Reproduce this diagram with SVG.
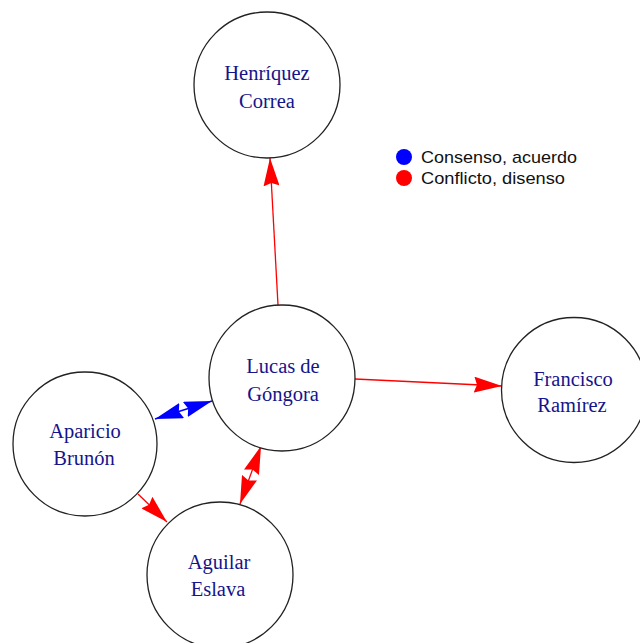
<svg xmlns="http://www.w3.org/2000/svg" width="640" height="643" viewBox="0 0 640 643">
<style>
.node{fill:#fff;stroke:#222;stroke-width:1.3}
.lbl{font-family:"Liberation Serif",serif;font-size:20.5px;fill:#14148c;text-anchor:middle}
.red{stroke:#f00;stroke-width:1.3;fill:none}
.blue{stroke:#00f;stroke-width:1.6;fill:none}
.leg{font-family:"Liberation Sans",sans-serif;font-size:17px;fill:#111}
</style>
<defs>
<marker id="ar" viewBox="0 0 28 16" refX="28" refY="8" markerWidth="28" markerHeight="16" markerUnits="userSpaceOnUse" orient="auto-start-reverse">
<path d="M0,0 L28,8 L0,16 L3,8 Z" fill="#f00"/>
</marker>
<marker id="ab" viewBox="0 0 28 16" refX="28" refY="8" markerWidth="28" markerHeight="16" markerUnits="userSpaceOnUse" orient="auto-start-reverse">
<path d="M0,0 L28,8 L0,16 L3,8 Z" fill="#00f"/>
</marker>
</defs>
<rect width="640" height="643" fill="#fff"/>
<g id="connectors">
<line class="red" x1="278" y1="305" x2="270" y2="158" marker-end="url(#ar)"/>
<line class="red" x1="355" y1="379" x2="502" y2="386" marker-end="url(#ar)"/>
<line class="blue" x1="155" y1="419" x2="212" y2="401" marker-start="url(#ab)" marker-end="url(#ab)"/>
<line class="red" x1="261" y1="446" x2="240" y2="504" marker-start="url(#ar)" marker-end="url(#ar)"/>
<line class="red" x1="138" y1="494" x2="167" y2="522" marker-end="url(#ar)"/>
</g>
<g id="henriquez">
<circle class="node" cx="267" cy="85" r="73"/>
<text class="lbl" x="267" y="80">Henríquez</text>
<text class="lbl" x="267" y="108">Correa</text>
</g>
<g id="lucas">
<circle class="node" cx="282" cy="378" r="73"/>
<text class="lbl" x="283" y="373">Lucas de</text>
<text class="lbl" x="283" y="401">Góngora</text>
</g>
<g id="francisco">
<circle class="node" cx="574" cy="390" r="72.5"/>
<text class="lbl" x="573" y="386">Francisco</text>
<text class="lbl" x="572" y="412">Ramírez</text>
</g>
<g id="aparicio">
<circle class="node" cx="85" cy="444" r="72"/>
<text class="lbl" x="85" y="438">Aparicio</text>
<text class="lbl" x="84" y="465">Brunón</text>
</g>
<g id="aguilar">
<circle class="node" cx="220" cy="575" r="73"/>
<text class="lbl" x="219" y="569">Aguilar</text>
<text class="lbl" x="218" y="596">Eslava</text>
</g>
<g id="legend">
<circle cx="404" cy="157" r="8" fill="#00f"/>
<text class="leg" x="421" y="163" textLength="156" lengthAdjust="spacingAndGlyphs">Consenso, acuerdo</text>
<circle cx="404" cy="178" r="8" fill="#f00"/>
<text class="leg" x="421" y="184" textLength="144" lengthAdjust="spacingAndGlyphs">Conflicto, disenso</text>
</g>
</svg>
